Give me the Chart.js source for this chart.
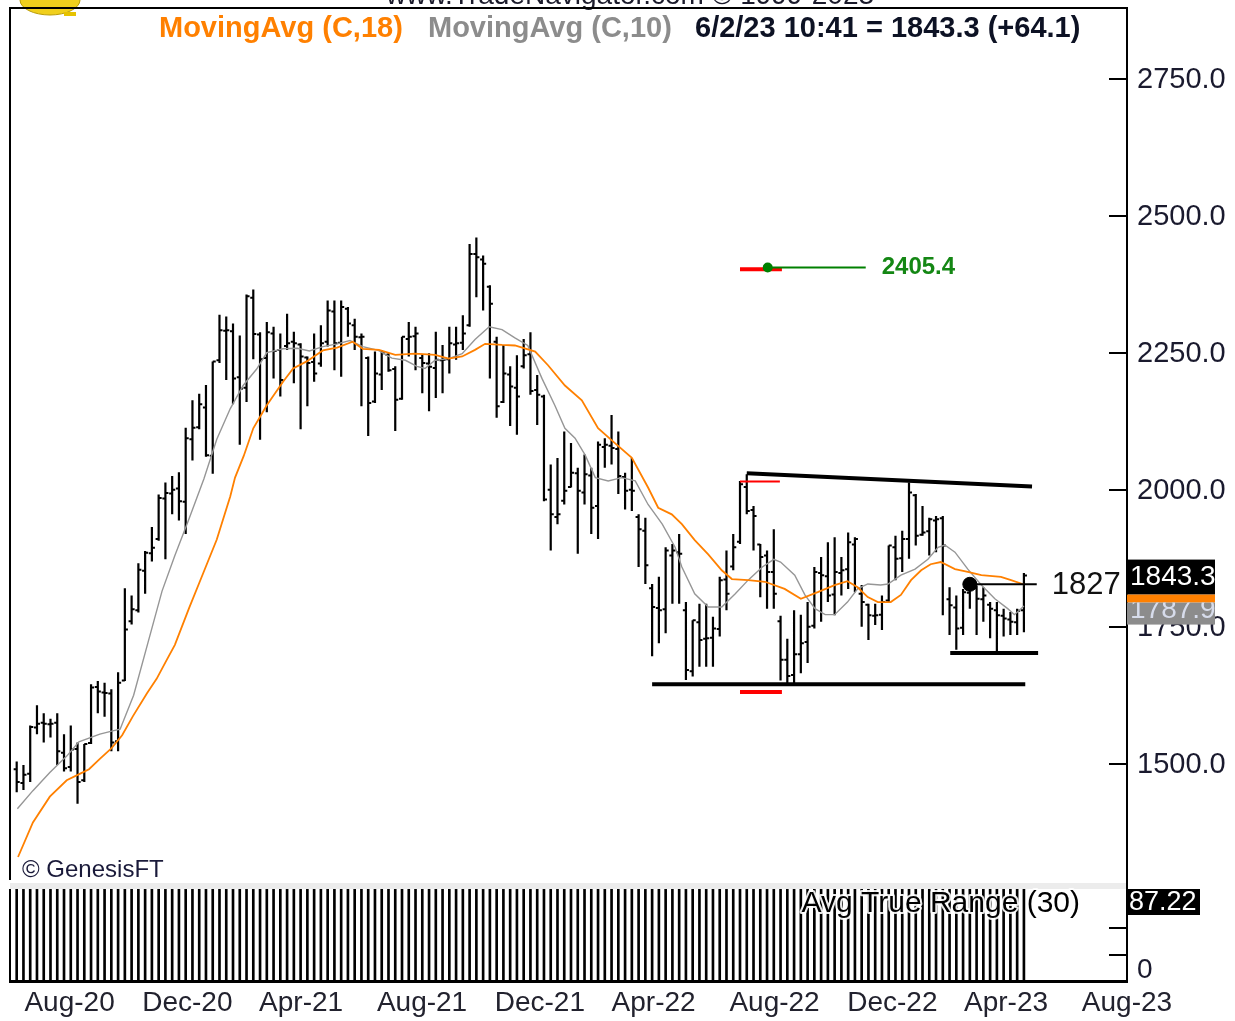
<!DOCTYPE html>
<html><head><meta charset="utf-8">
<script src="https://cdn.jsdelivr.net/npm/chart.js@4.4.0/dist/chart.umd.min.js"></script>
<style>
html,body{margin:0;padding:0;background:#fff;overflow:hidden}
#w{position:relative;width:1235px;height:1021px;background:#fff}
#c1{position:absolute;left:0;top:0}
#c2{position:absolute;left:0;top:883px}
</style></head>
<body><div id="w"><canvas id="c1" width="1235" height="885"></canvas><canvas id="c2" width="1235" height="138"></canvas></div>
<script>
// ---- weekly bars (index 0 = week of Jul 24 2020, index 149 = 6/2/23) ----
const highs = [
1504,1498,1570,1607,1592,1582,1592,1554,1570,1539,
1536,1645,1651,1648,1636,1667,1820,1807,1866,1888,
1932,1991,2013,2025,2032,2113,2163,2175,2191,2234,
2319,2316,2303,2281,2356,2365,2287,2306,2297,2285,
2321,2288,2267,2243,2285,2300,2345,2345,2345,2333,
2312,2285,2243,2252,2255,2249,2225,2279,2306,2297,
2246,2249,2288,2264,2297,2297,2318,2448,2460,2427,
2373,2279,2264,2225,2245,2275,2287,2209,2173,2046,
2058,2106,2085,2040,2064,2040,2088,2094,2136,2106,
2031,2058,1955,1949,1828,1841,1895,1901,1919,1795,
1762,1792,1792,1768,1841,1889,1919,2016,2028,1970,
1901,1889,1928,1770,1728,1780,1772,1795,1859,1877,
1904,1913,1877,1922,1913,1826,1792,1792,1807,1898,
1916,1925,2013,1992,1970,1949,1952,1952,1822,1807,
1819,1825,1825,1822,1795,1795,1783,1777,1783,1848];
const lows = [
1448,1452,1467,1554,1539,1548,1498,1486,1486,1427,
1467,1536,1592,1586,1523,1523,1651,1754,1776,1810,
1869,1907,1873,1955,1944,1919,2053,2110,2060,2029,
2231,2200,2156,2082,2160,2238,2091,2141,2203,2170,
2255,2194,2110,2152,2197,2224,2261,2218,2206,2279,
2255,2152,2098,2158,2182,2215,2107,2164,2243,2218,
2176,2143,2167,2176,2212,2237,2255,2297,2351,2327,
2203,2131,2158,2116,2100,2221,2173,2118,1979,1889,
1937,1973,2004,1883,1973,1919,1910,2040,2046,1992,
1964,1961,1859,1828,1696,1720,1738,1792,1792,1653,
1659,1677,1677,1677,1732,1780,1853,1901,1955,1889,
1804,1783,1783,1652,1645,1645,1665,1684,1747,1759,
1795,1771,1807,1819,1813,1750,1726,1753,1744,1795,
1835,1850,1874,1898,1916,1880,1886,1771,1735,1708,
1735,1783,1735,1759,1729,1702,1732,1735,1735,1740];
const opens = [
1490,1465,1482,1566,1575,1572,1575,1520,1494,1527,
1470,1538,1640,1630,1628,1541,1652,1760,1780,1852,
1884,1910,1984,1993,2002,1978,2092,2114,2150,2062,
2236,2290,2289,2205,2186,2350,2283,2240,2285,2255,
2262,2270,2265,2241,2233,2230,2270,2325,2268,2330,
2300,2278,2240,2161,2210,2246,2220,2166,2275,2280,
2240,2230,2222,2236,2238,2265,2268,2300,2430,2420,
2370,2270,2160,2210,2186,2225,2247,2182,2170,2000,
1950,1980,2005,2030,1995,2026,1970,2078,2080,2074,
2023,2000,1950,1925,1820,1784,1782,1880,1886,1780,
1669,1758,1728,1730,1746,1836,1860,1905,2005,1963,
1900,1880,1850,1760,1690,1662,1700,1722,1752,1848,
1842,1809,1848,1855,1900,1810,1790,1770,1772,1798,
1895,1875,1910,1990,1918,1924,1944,1948,1800,1785,
1748,1812,1820,1800,1790,1780,1770,1763,1758,1780];
const closes = [
1467,1480,1567,1573,1573,1573,1523,1492,1526,1467,
1536,1639,1632,1629,1539,1648,1745,1782,1854,1885,
1894,1985,1994,2000,1979,2094,2113,2156,2063,2234,
2291,2291,2203,2184,2353,2284,2238,2287,2253,2200,
2267,2267,2243,2231,2212,2267,2327,2267,2333,2303,
2279,2279,2158,2212,2249,2218,2164,2279,2279,2285,
2231,2224,2237,2237,2267,2267,2285,2430,2424,2412,
2339,2152,2212,2188,2170,2245,2180,2173,1982,1955,
1955,1998,2031,1998,2028,1967,2082,2082,2076,2025,
1998,1998,1928,1862,1786,1780,1889,1889,1883,1671,
1762,1726,1729,1747,1835,1810,1895,2010,1961,1952,
1877,1850,1810,1690,1660,1700,1720,1750,1850,1844,
1807,1850,1853,1904,1910,1795,1771,1771,1795,1898,
1874,1910,1995,1916,1922,1946,1946,1898,1789,1747,
1813,1822,1801,1807,1783,1771,1765,1759,1779.2,1843.3];

// ---- moving averages (x = bar index) ----
const ma18Idx = [0.2,2.4,4.9,7.4,9.4,10.7,12.3,14.0,15.6,17.2,19.3,20.7,22.0,23.4,25.5,27.6,29.6,31.6,32.3,33.6,35.0,37.0,39.4,40.9,42.9,45.3,47.4,49.7,51.2,53.6,56.0,58.9,61.9,63.9,65.9,67.8,69.3,71.8,73.7,76.7,78.6,81.1,83.6,86.0,88.5,91.0,93.4,94.9,96.9,98.4,100.3,102.3,104.3,105.8,108.2,110.7,113.6,116.0,118.5,121.0,122.9,124.4,125.9,127.4,129.3,130.8,132.3,133.8,135.2,136.7,138.8,140.7,142.7,145.6,147.1,149.0];
const ma18Val = [1330,1393,1440,1470,1482,1490,1509,1528,1552,1587,1629,1655,1685,1717,1784,1848,1909,1988,2022,2062,2112,2154,2197,2221,2234,2254,2259,2270,2257,2255,2246,2248,2246,2239,2243,2255,2266,2264,2263,2252,2227,2190,2163,2112,2085,2058,2004,1967,1955,1937,1908,1882,1853,1837,1835,1832,1819,1801,1813,1826,1833,1822,1804,1795,1795,1808,1835,1853,1864,1868,1855,1850,1844,1841,1835,1827];
const ma10Idx = [0.1,2.4,4.9,7.4,9.2,12.3,14.2,15.3,17.3,19.4,21.5,23.4,25.5,27.7,29.6,31.6,33.5,35.5,37.0,39.4,41.5,43.3,45.3,47.4,49.3,51.2,53.5,55.5,57.5,59.2,60.4,61.9,63.9,65.9,67.8,69.9,71.8,73.7,75.6,77.7,79.6,81.1,82.6,84.1,85.6,87.5,89.5,91.5,93.4,95.5,97.4,98.4,100.3,102.3,104.3,106.3,108.2,110.3,112.0,113.0,115.1,116.6,118.1,119.6,121.0,122.9,124.4,125.9,127.8,128.9,130.8,132.9,134.8,136.3,137.3,138.8,140.7,142.7,144.7,146.6,147.6,149.0];
const ma10Val = [1418,1451,1484,1514,1540,1554,1560,1563,1625,1720,1815,1880,1947,2020,2092,2148,2190,2220,2250,2257,2258,2253,2261,2266,2272,2261,2254,2240,2236,2225,2221,2236,2239,2248,2274,2297,2292,2277,2263,2203,2154,2112,2094,2063,2022,2016,2022,2016,1973,1937,1895,1859,1810,1786,1786,1810,1835,1859,1873,1868,1844,1808,1783,1772,1772,1795,1819,1828,1826,1828,1844,1855,1873,1895,1899,1886,1855,1826,1801,1783,1772,1787.9];

// ---- Avg True Range (30) ----
const atrVals = [
118,117,119,121,120,118,117,116,115,114,
115,117,116,115,114,116,119,118,119,120,
119,121,120,119,118,121,122,121,120,122,
124,123,122,121,123,122,121,120,119,117,
116,114,115,112,110,111,108,107,108,105,
104,105,102,101,100,99,100,97,96,97,
95,94,95,93,92,91,95,98,99,100,
103,104,103,102,104,108,109,108,110,111,
110,109,111,110,108,107,106,107,105,104,
103,104,102,101,103,104,105,106,105,107,
106,105,104,103,104,103,102,104,105,104,
103,102,103,101,100,99,98,97,96,95,
95,94,93,92,91,90,91,90,89,90,
91,92,94,95,94,93,92,94,93,92,
91,90,90,89,89,88,88,87.8,87.5,87.22];

// ---- axes ----
const priceTicks = [1500,1750,2000,2250,2500,2750];
const monthTickIdx = [1.143,18.571,35.857,53.286,70.714,88.0,105.429,122.857,140.143,157.571];
const monthTickLabels = ['Aug-20','Dec-20','Apr-21','Aug-21','Dec-21','Apr-22','Aug-22','Dec-22','Apr-23','Aug-23'];

// ---- drawn study lines (bar index, price) ----
const resistIdx = [108.0,150.2], resistVal = [2030,2006];
const supportIdx = [94.0,149.2], supportVal = [1645,1645];
const boxLowIdx = [138.1,151.1], boxLowVal = [1702,1702];
const pivotIdx = [141.0,150.9], pivotVal = [1827.4,1827.4];
const targetIdx = [111.1,125.6], targetVal = [2405.4,2405.4];
const targetRedIdx = [107.0,113.2], targetRedVal = [2402,2402];
const redHighIdx = [107.0,112.9], redHighVal = [2015,2015];
const redLowIdx = [107.0,113.2], redLowVal = [1631,1631];

const FONT = "'Liberation Sans', Arial, Helvetica, sans-serif";
Chart.defaults.font.family = FONT;
const X_MIN = -0.99, X_MAX = 164.25;
const N = closes.length;
const hl = [], op = [], cl = [];
for (let i = 0; i < N; i++) {
  hl.push({x:i,y:lows[i]},{x:i,y:highs[i]},{x:i,y:null});
  op.push({x:i-0.45,y:opens[i]},{x:i,y:opens[i]},{x:i,y:null});
  cl.push({x:i,y:closes[i]},{x:i+0.45,y:closes[i]},{x:i+0.45,y:null});
}
const pts = (xs, ys) => xs.map((x, k) => ({x, y: ys[k]}));
const ld = (data, color, width, extra) => Object.assign({type:'line', data, borderColor:color, borderWidth:width, pointRadius:0, fill:false, tension:0, spanGaps:false, borderCapStyle:'butt'}, extra || {});
const noPad = (s) => { s.paddingTop = 0; s.paddingBottom = 0; s.paddingLeft = 0; s.paddingRight = 0; };

const deco1 = {id:'deco1', afterDraw(ch){
  const c = ch.ctx, a = ch.chartArea, x = ch.scales.x, y = ch.scales.y;
  c.save();
  // logo
  c.fillStyle = '#f0cf1c'; c.strokeStyle = '#b89a00'; c.lineWidth = 1;
  c.beginPath(); c.ellipse(50, 0, 30, 15, 0, 0, Math.PI*2); c.fill(); c.stroke();
  c.fillStyle = '#e6c200'; c.fillRect(64, 12, 12, 4);
  // site text (cut at top)
  c.fillStyle = '#1b1b2b'; c.font = '28px ' + FONT; c.textAlign = 'center'; c.textBaseline = 'alphabetic';
  c.fillText('www.TradeNavigator.com \u00A9 1999-2023', 630, 4);
  // frame
  c.strokeStyle = '#000'; c.lineWidth = 2;
  c.beginPath(); c.moveTo(a.left, a.bottom + 3); c.lineTo(a.left, a.top); c.lineTo(a.right, a.top); c.lineTo(a.right, ch.height); c.stroke();
  // legend
  c.textAlign = 'left'; c.font = 'bold 29px ' + FONT;
  c.fillStyle = 'rgb(255,128,0)'; c.fillText('MovingAvg (C,18)', 159, 37);
  c.fillStyle = 'rgb(140,140,140)'; c.fillText('MovingAvg (C,10)', 428, 37);
  c.fillStyle = '#0d1224'; c.fillText('6/2/23 10:41 = 1843.3 (+64.1)', 695, 37);
  // target label
  c.textBaseline = 'middle'; c.font = 'bold 24px ' + FONT; c.fillStyle = 'rgb(20,135,20)';
  c.fillText(targetVal[0].toFixed(1), x.getPixelForValue(targetIdx[1]) + 16, y.getPixelForValue(targetVal[0]));
  // pivot label
  c.font = '31px ' + FONT; c.fillStyle = '#111';
  c.fillText('1827', x.getPixelForValue(pivotIdx[1]) + 15, y.getPixelForValue(pivotVal[0]) + 1);
  // copyright
  c.font = '24px ' + FONT; c.fillStyle = '#1a1a3a';
  c.fillText('\u00A9 GenesisFT', 22, 870);
  // right-side value boxes
  const yc = y.getPixelForValue(closes[N-1]);
  const bx = a.right, bw = 88;
  c.fillStyle = '#000'; c.fillRect(bx, yc - 16, bw, 35);
  c.fillStyle = 'rgb(255,128,0)'; c.fillRect(bx, yc + 19, bw, 8);
  c.fillStyle = 'rgb(140,140,140)'; c.fillRect(bx, yc + 27, bw, 22);
  c.font = '28px ' + FONT; c.fillStyle = '#fff';
  c.fillText(closes[N-1].toFixed(1), bx + 3, yc + 2);
  c.save(); c.beginPath(); c.rect(bx, yc + 27, bw, 22); c.clip();
  c.fillStyle = 'rgb(215,220,235)'; c.fillText(ma10Val[ma10Val.length-1].toFixed(1), bx + 3, yc + 35);
  c.restore();
  c.restore();
}};

new Chart(document.getElementById('c1'), {
  type: 'line',
  data: {datasets: [
    ld([{x:pivotIdx[0], y:pivotVal[0]}], '#000', 1, {pointRadius:7, pointBackgroundColor:'#000', pointBorderColor:'#000', showLine:false}),
    ld(pts(targetIdx, targetVal), 'rgb(0,128,0)', 2, {pointRadius:[5,0], pointBackgroundColor:'rgb(0,128,0)', pointBorderColor:'rgb(0,128,0)', pointBorderWidth:0}),
    ld(pts(targetRedIdx, targetRedVal), 'rgb(255,0,0)', 4),
    ld(pts(pivotIdx, pivotVal), '#000', 2),
    ld(pts(ma18Idx, ma18Val), 'rgb(255,128,0)', 1.8),
    ld(pts(ma10Idx, ma10Val), 'rgb(150,150,150)', 1.4),
    ld(pts(resistIdx, resistVal), '#000', 4),
    ld(pts(supportIdx, supportVal), '#000', 4),
    ld(pts(boxLowIdx, boxLowVal), '#000', 4),
    ld(pts(redHighIdx, redHighVal), 'rgb(255,0,0)', 2),
    ld(pts(redLowIdx, redLowVal), 'rgb(255,0,0)', 4),
    ld(hl, '#000', 2.2),
    ld(op, '#000', 2),
    ld(cl, '#000', 2)
  ]},
  options: {
    responsive:false, devicePixelRatio:1, animation:false, events:[],
    layout:{padding:{left:10, top:7, right:0, bottom:3}},
    plugins:{legend:{display:false}, tooltip:{enabled:false}},
    scales:{
      x:{type:'linear', display:false, min:X_MIN, max:X_MAX},
      y:{type:'linear', position:'right', min:1293.5, max:2878.6,
        afterFit:(s)=>{s.width = 108; noPad(s);},
        afterBuildTicks:(s)=>{s.ticks = priceTicks.map(v=>({value:v}));},
        ticks:{callback:(v)=>Number(v).toFixed(1), font:{size:29}, color:'#1a1a2e', padding:28, labelOffset:1},
        grid:{drawOnChartArea:false, drawTicks:true, tickLength:-18, color:'#000', lineWidth:2},
        border:{display:false}}
    }
  },
  plugins:[deco1]
});

const deco2 = {id:'deco2',
  beforeDraw(ch){
    const c = ch.ctx, a = ch.chartArea;
    c.save(); c.fillStyle = '#ececec'; c.fillRect(a.left, 0, a.right - a.left, a.top); c.restore();
  },
  afterDraw(ch){
    const c = ch.ctx, a = ch.chartArea;
    c.save();
    c.strokeStyle = '#000'; c.lineWidth = 2;
    c.beginPath(); c.moveTo(a.left, a.top); c.lineTo(a.left, a.bottom); c.stroke();
    c.beginPath(); c.moveTo(a.right, 0); c.lineTo(a.right, a.bottom + 2); c.stroke();
    c.fillStyle = '#000'; c.fillRect(a.left - 1, a.bottom - 1, a.right - a.left + 2, 3);
    c.font = '30px ' + FONT; c.textAlign = 'right'; c.textBaseline = 'middle';
    c.lineWidth = 4; c.strokeStyle = 'rgba(255,255,255,0.9)'; c.lineJoin = 'round';
    c.strokeText('Avg True Range (30)', 1080, 21);
    c.fillStyle = '#000'; c.fillText('Avg True Range (30)', 1080, 21);
    c.fillStyle = '#000'; c.fillRect(a.right, a.top, 73, 26);
    c.fillStyle = '#fff'; c.font = '27px ' + FONT; c.textAlign = 'left';
    c.fillText(atrVals[N-1].toFixed(2), a.right + 2, a.top + 14);
    c.restore();
  }
};

new Chart(document.getElementById('c2'), {
  type: 'bar',
  data: {datasets: [{data: atrVals.map((v,i)=>({x:i, y:v})), backgroundColor:'#000', borderWidth:0, barThickness:2}]},
  options: {
    responsive:false, devicePixelRatio:1, animation:false, events:[],
    layout:{padding:{left:10, top:6, right:0, bottom:0}},
    plugins:{legend:{display:false}, tooltip:{enabled:false}},
    scales:{
      x:{type:'linear', min:X_MIN, max:X_MAX, offset:false,
        afterFit:(s)=>{s.height = 40; noPad(s);},
        afterBuildTicks:(s)=>{s.ticks = monthTickIdx.map(v=>({value:v}));},
        ticks:{callback:(v,i)=>monthTickLabels[i], align:'start', maxRotation:0, minRotation:0, autoSkip:false, font:{size:28}, color:'#22222e', padding:5},
        grid:{display:false, drawTicks:false}, border:{display:false}},
      y:{type:'linear', position:'right', min:0, max:80,
        afterFit:(s)=>{s.width = 108; noPad(s);},
        afterBuildTicks:(s)=>{s.ticks = [0,23,46].map(v=>({value:v}));},
        ticks:{callback:(v)=>v===0?'0':'', font:{size:28}, color:'#1a1a2e', padding:28, labelOffset:-11},
        grid:{drawOnChartArea:false, drawTicks:true, tickLength:-18, color:'#000', lineWidth:2},
        border:{display:false}}
    }
  },
  plugins:[deco2]
});
</script></body></html>
